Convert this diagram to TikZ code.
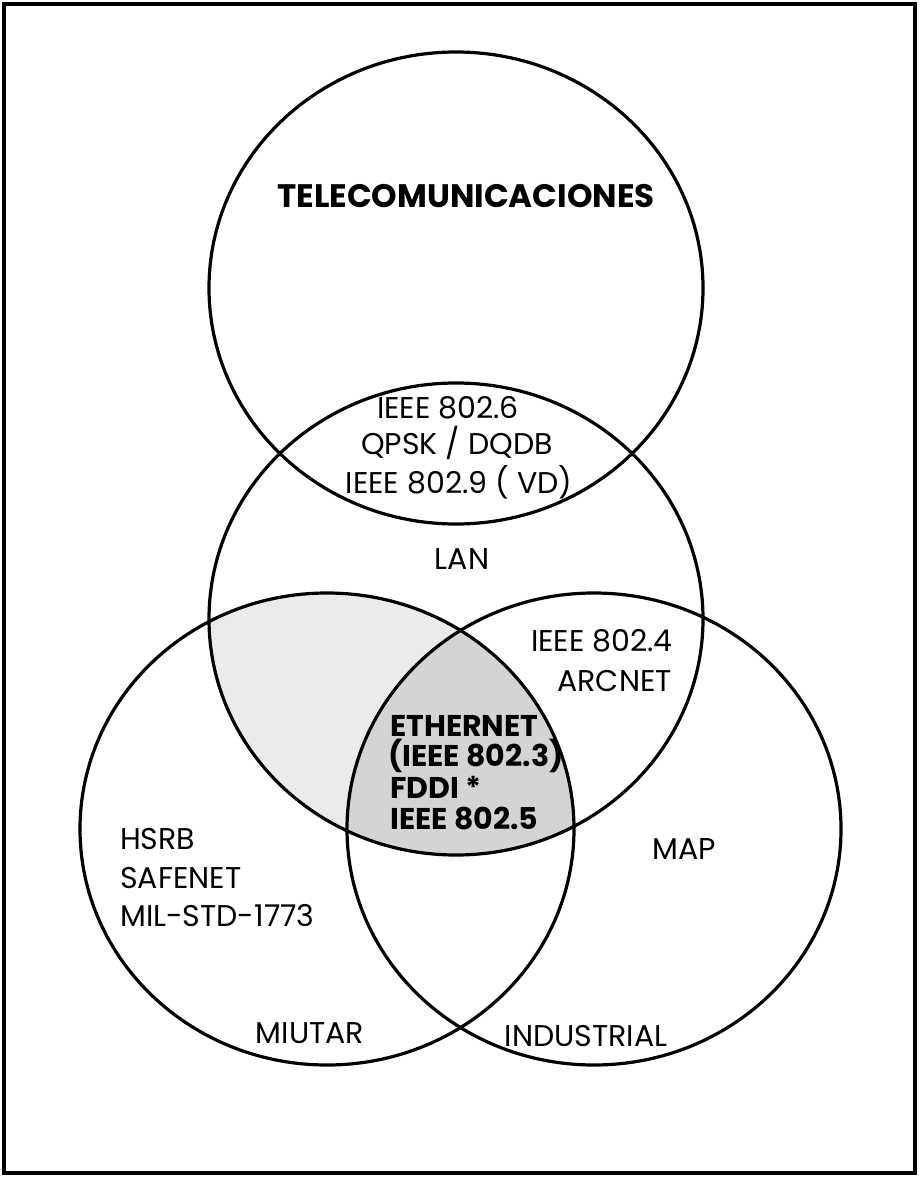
\documentclass[tikz,border=0pt]{standalone}
\usepackage{fontspec}
\setmainfont{Poppins}
\begin{document}
\begin{tikzpicture}[x=1pt,y=-1pt,
  ring/.style={draw=black,line width=3.2pt},
  lbl/.style={inner sep=0pt,font=\fontsize{30}{36}\selectfont},
  bold lbl/.style={lbl,font=\fontsize{30}{36}\selectfont\bfseries},
  title lbl/.style={lbl,font=\fontsize{32.5}{38}\selectfont\bfseries}]
\useasboundingbox (0,0) rectangle (920,1180);
\fill[white] (0,0) rectangle (920,1180);
% centres of the four sets
\coordinate (tel) at (456,288);
\coordinate (lan) at (456,619);
\coordinate (mil) at (327,829);
\coordinate (ind) at (594,829);
\def\rx{247}\def\ry{236}
% shading
\begin{scope}
  \clip (lan) ellipse [x radius=\rx, y radius=\ry];
  \fill[gray!16] (mil) ellipse [x radius=\rx, y radius=\ry];
  \clip (mil) ellipse [x radius=\rx, y radius=\ry];
  \fill[gray!34] (ind) ellipse [x radius=\rx, y radius=\ry];
\end{scope}
% circles
\draw[ring] (tel) ellipse [x radius=\rx, y radius=\ry];
\draw[ring] (lan) ellipse [x radius=\rx, y radius=\ry];
\draw[ring] (mil) ellipse [x radius=\rx, y radius=\ry];
\draw[ring] (ind) ellipse [x radius=\rx, y radius=\ry];
% frame
\draw[line width=3.5pt] (4,4) rectangle (915,1173);
% labels
\node[title lbl,anchor=base] (t1) at (466,207) {TELECOMUNICACIONES};
\node[lbl,anchor=base] (t2) at (448,418) {IEEE 802.6};
\node[lbl,anchor=base] (t3) at (457,454) {QPSK / DQDB};
\node[lbl,anchor=base] (t4) at (459,493) {IEEE 802.9 ( VD)};
\node[lbl,anchor=base] (t5) at (462,569) {LAN};
\node[lbl,anchor=base east] (t6) at (673,651) {IEEE 802.4};
\node[lbl,anchor=base east] (t7) at (672,691) {ARCNET};
\node[lbl,anchor=base] (t8) at (684,859) {MAP};
\node[lbl,anchor=base] (t9) at (586,1046) {INDUSTRIAL};
\node[lbl,anchor=base] (t10) at (310,1043) {MIUTAR};
\node[lbl,anchor=base west] (t11) at (120,849) {HSRB};
\node[lbl,anchor=base west] (t12) at (120,888) {SAFENET};
\node[lbl,anchor=base west] (t13) at (120,926) {MIL-STD-1773};
\node[bold lbl,anchor=base west] (t14) at (390,736) {ETHERNET};
\node[bold lbl,anchor=base west] (t15) at (388,766) {(IEEE 802.3)};
\node[bold lbl,anchor=base west] (t16) at (390,798) {FDDI *};
\node[bold lbl,anchor=base west] (t17) at (390,829) {IEEE 802.5};
\end{tikzpicture}
\end{document}
